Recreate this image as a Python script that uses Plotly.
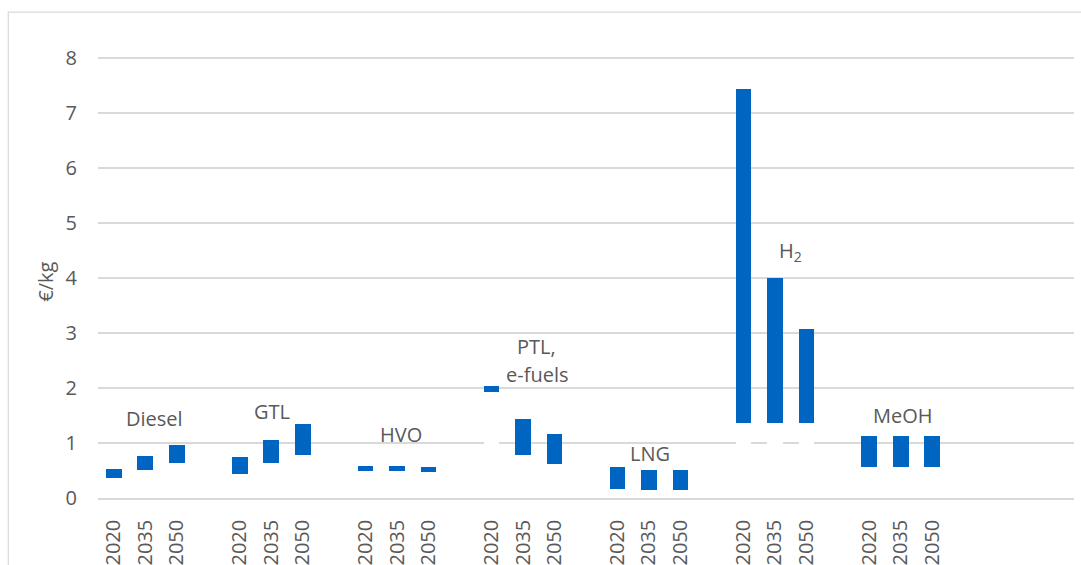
import plotly.graph_objects as go

# ---- data ----
fuels = ["Diesel", "GTL", "HVO", "PTL, e-fuels", "LNG", "H2", "MeOH"]
years = ["2020", "2035", "2050"]
low = {
    "Diesel": [0.36, 0.50, 0.635],
    "GTL": [0.44, 0.635, 0.79],
    "HVO": [0.49, 0.49, 0.48],
    "PTL, e-fuels": [1.92, 0.79, 0.61],
    "LNG": [0.16, 0.14, 0.14],
    "H2": [1.37, 1.37, 1.37],
    "MeOH": [0.56, 0.56, 0.56],
}
high = {
    "Diesel": [0.53, 0.76, 0.955],
    "GTL": [0.74, 1.06, 1.34],
    "HVO": [0.59, 0.58, 0.57],
    "PTL, e-fuels": [2.03, 1.44, 1.17],
    "LNG": [0.56, 0.50, 0.50],
    "H2": [7.43, 3.99, 3.07],
    "MeOH": [1.13, 1.13, 1.13],
}
# fuel labels: (text, x offset in category slots from group start, y value)
labels = [
    ("Diesel", 1.28, 1.45),
    ("GTL", 1.03, 1.58),
    ("HVO", 1.13, 1.16),
    ("PTL,", 1.43, 2.76),
    ("e-fuels", 1.43, 2.25),
    ("LNG", 1.04, 0.80),
    ("H<sub>2</sub>", 1.5, 4.47),
    ("MeOH", 1.06, 1.49),
]
label_group = [0, 1, 2, 3, 3, 4, 5, 6]
n_slots = 31  # 7 groups of 4 slots (3 years + gap) plus trailing empty slots

BLUE = "#0065C0"
GRID = "#D9D9D9"
TEXT = "#595959"
FONT = "Open Sans, Segoe UI, sans-serif"
FS = 20

xs, bases, spans, ticktext = [], [], [], []
for g, f in enumerate(fuels):
    for i, yr in enumerate(years):
        xs.append(g * 4 + i)
        bases.append(low[f][i])
        spans.append(high[f][i] - low[f][i])
        ticktext.append(yr)

fig = go.Figure()
fig.add_trace(go.Bar(x=xs, y=bases, width=0.5, marker=dict(color="white", line=dict(width=0)),
                     hoverinfo="skip", showlegend=False))
fig.add_trace(go.Bar(x=xs, y=spans, width=0.5, marker=dict(color=BLUE, line=dict(width=0)),
                     showlegend=False))

for (txt, dx, yv), g in zip(labels, label_group):
    fig.add_annotation(x=g * 4 + dx, y=yv, text=txt, showarrow=False,
                       xanchor="center", yanchor="middle",
                       font=dict(family=FONT, size=FS, color=TEXT))

# y-axis title
fig.add_annotation(xref="paper", yref="paper", x=(46 - 98) / 975.7, y=0.485,
                   text="€/kg", textangle=-90, showarrow=False,
                   xanchor="center", yanchor="middle",
                   font=dict(family=FONT, size=FS, color=TEXT))

# outer chart border
fig.add_shape(type="rect", xref="paper", yref="paper",
              x0=(8.3 - 98) / 975.7, x1=1.2, y0=-0.3, y1=(498.3 - 12.3) / 446.1,
              line=dict(color=GRID, width=1.2), fillcolor="rgba(0,0,0,0)", layer="below")

fig.update_layout(
    width=1081, height=565,
    margin=dict(l=98, r=7.3, t=52.2, b=66.7, autoexpand=False),
    paper_bgcolor="white", plot_bgcolor="white",
    barmode="stack", bargap=0.5,
    font=dict(family=FONT, size=FS, color=TEXT),
)
fig.update_xaxes(
    range=[-0.5, n_slots - 0.5], tickmode="array", tickvals=xs, ticktext=ticktext,
    tickangle=-90, showgrid=False, zeroline=False, showline=True, linecolor=GRID,
    linewidth=1.5, ticks="", ticklabelstandoff=12, automargin=False,
    tickfont=dict(family=FONT, size=FS, color=TEXT),
)
fig.update_yaxes(
    range=[0, 8.1], tickvals=[0, 1, 2, 3, 4, 5, 6, 7, 8], showgrid=True, gridcolor=GRID,
    gridwidth=1.5, zeroline=False, showline=False, ticks="", ticklabelstandoff=20,
    automargin=False, tickfont=dict(family=FONT, size=FS, color=TEXT),
)

fig.write_html("out.html", config={"displayModeBar": False},
               post_script="document.body.style.margin='0';document.body.style.overflow='hidden';")
